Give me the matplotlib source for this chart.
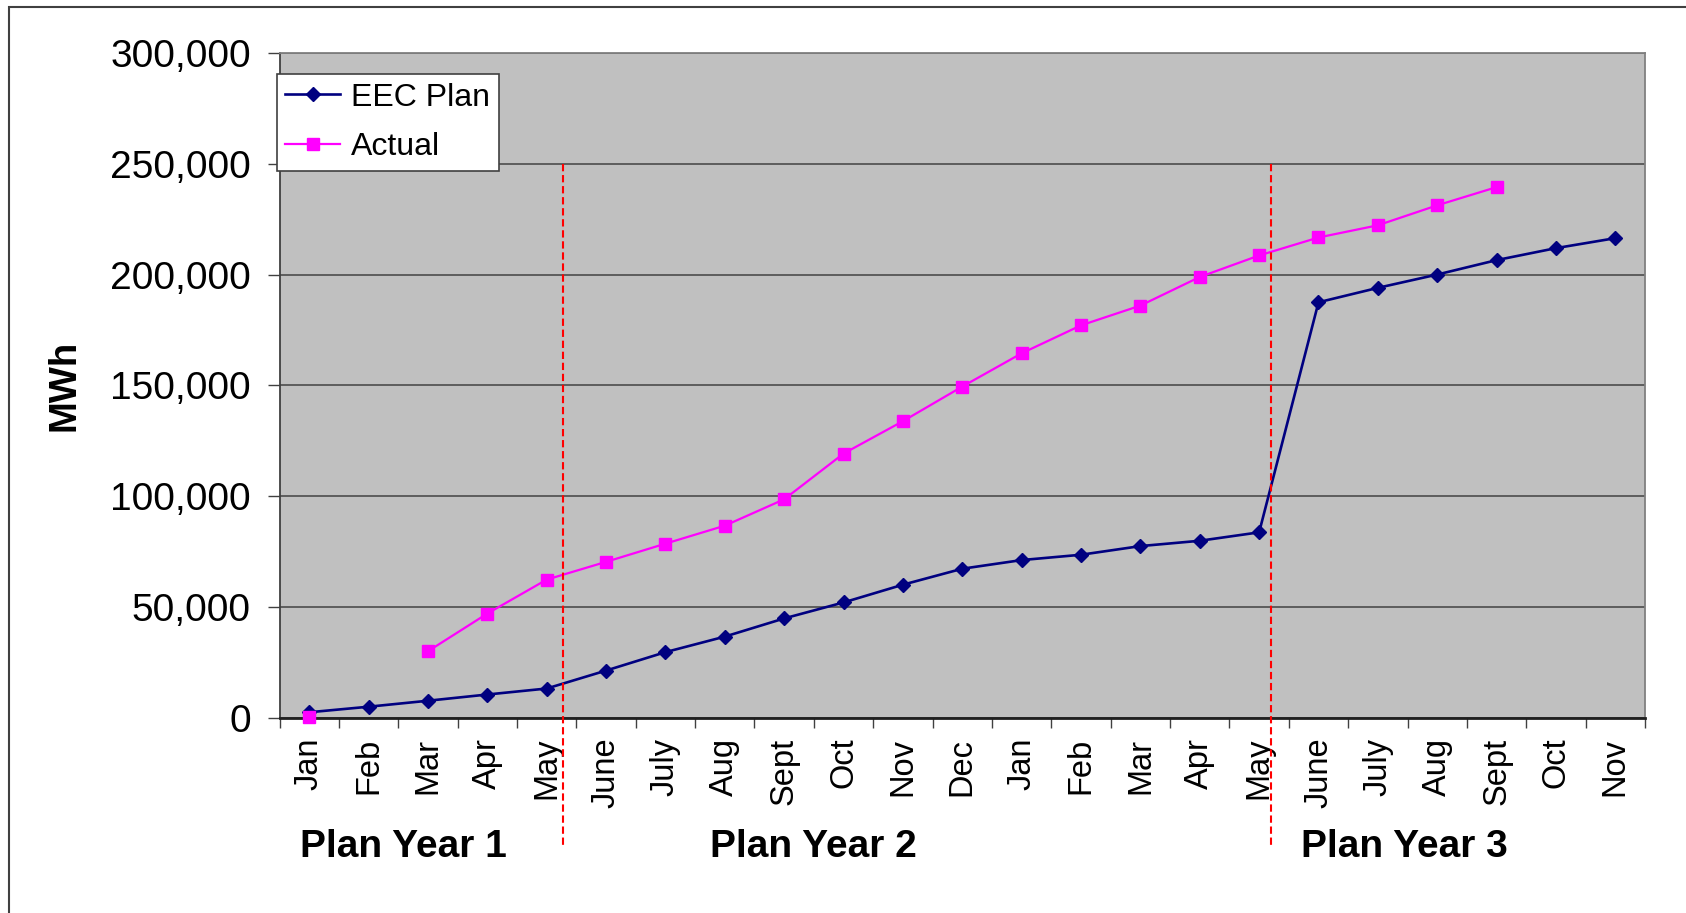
import numpy as np
import matplotlib
matplotlib.use('Agg')
import matplotlib.pyplot as plt
from matplotlib.ticker import FuncFormatter
from matplotlib.patches import Rectangle

plt.rcParams['font.family'] = ['Liberation Sans', 'DejaVu Sans']

months = ["Jan", "Feb", "Mar", "Apr", "May", "June", "July", "Aug", "Sept", "Oct", "Nov", "Dec",
          "Jan", "Feb", "Mar", "Apr", "May", "June", "July", "Aug", "Sept", "Oct", "Nov"]
eec_plan = [2700, 5200, 7900, 10700, 13400, 21500, 29800, 36800, 45000, 52200, 60200, 67400,
            71300, 73700, 77600, 80000, 83800, 187500, 194000, 200000, 206500, 211900, 216400]
actual = [500, np.nan, 30200, 47200, 62500, 70500, 78700, 86800, 98700, 119300, 133900, 149500,
          164500, 177100, 186000, 198900, 208600, 216700, 222200, 231200, 239400, np.nan, np.nan]
year_labels = ["Plan Year 1", "Plan Year 2", "Plan Year 3"]
year_label_x = [1.58, 8.5, 18.44]
divider_x = [4.27, 16.2]

fig = plt.figure(figsize=(16.86, 9.13), dpi=100)
ax = fig.add_axes([0.1658, 0.2133, 0.9757 - 0.1658, 0.9423 - 0.2133])
ax.set_facecolor('#C0C0C0')

x = np.arange(len(months))
ax.plot(x, eec_plan, color='#000080', lw=1.9, marker='D', ms=7.3,
        markerfacecolor='#000080', markeredgecolor='#000080', label='EEC Plan',
        clip_on=False, zorder=3)
ax.plot(x, actual, color='#FF00FF', lw=1.6, marker='s', ms=9.3,
        markerfacecolor='#FF00FF', markeredgecolor='#FF00FF', label='Actual',
        clip_on=False, zorder=4)

ax.set_xlim(-0.5, len(months) - 0.5)
ax.set_ylim(0, 300000)
ax.set_yticks(np.arange(0, 300001, 50000))
ax.yaxis.set_major_formatter(FuncFormatter(lambda v, p: f"{int(v):,}"))
ax.yaxis.grid(True, color='#555555', lw=1.3)
ax.set_axisbelow(True)

ax.set_xticks(x)
ax.set_xticklabels(months, rotation=90, fontsize=23.5)
ax.set_xticks(np.arange(-0.5, len(months), 1), minor=True)
ax.tick_params(axis='x', which='major', length=0, pad=14)
ax.tick_params(axis='x', which='minor', length=7.5, width=1.0, color='#404040')
ax.tick_params(axis='y', length=8.6, width=1.0, color='#404040', labelsize=28, pad=12)

for s in ['top', 'right']:
    ax.spines[s].set_color('#808080')
    ax.spines[s].set_linewidth(1.3)
ax.spines['left'].set_color('#404040')
ax.spines['left'].set_linewidth(1.3)
ax.spines['bottom'].set_color('#202020')
ax.spines['bottom'].set_linewidth(2.0)

ax.set_ylabel('MWh', fontsize=27.5, fontweight='bold', labelpad=20)

leg = ax.legend(loc='upper left', bbox_to_anchor=(-0.002, 0.968), borderaxespad=0,
                fontsize=23, frameon=True, fancybox=False, shadow=False, framealpha=1,
                handlelength=1.7, handletextpad=0.35, labelspacing=0.62,
                borderpad=0.27, numpoints=1)
leg.get_frame().set_facecolor('white')
leg.get_frame().set_edgecolor('#404040')
leg.get_frame().set_linewidth(1.2)
leg.set_zorder(5)

for dx in divider_x:
    ax.plot([dx, dx], [250000, -57000], color='#FF0000', lw=1.5, ls=(0, (3.5, 1.8)),
            clip_on=False, zorder=6)

for lbl, lx in zip(year_labels, year_label_x):
    ax.annotate(lbl, xy=(lx, 0.072), xycoords=('data', 'figure fraction'),
                ha='center', va='center', fontsize=28, fontweight='bold')

fig.patches.append(Rectangle((0.0051, -0.5), 2.0, 0.9918 + 0.5, transform=fig.transFigure,
                             fill=False, edgecolor='#404040', lw=1.5, zorder=0))

fig.savefig('out.png', dpi=100)
